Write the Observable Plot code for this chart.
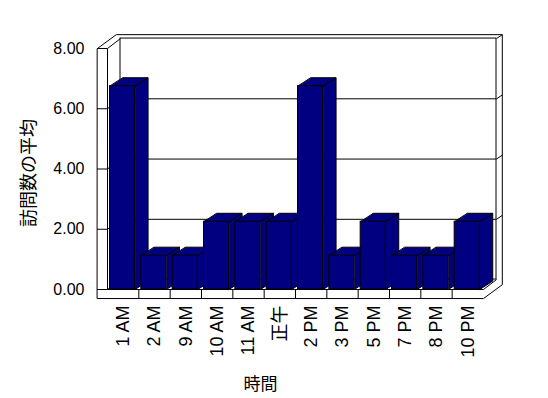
<!DOCTYPE html>
<html>
<head>
<meta charset="utf-8">
<script src="https://cdn.jsdelivr.net/npm/d3@7"></script>
<script src="https://cdn.jsdelivr.net/npm/@observablehq/plot@0.6"></script>
<style>
  html, body { margin: 0; padding: 0; background: #ffffff; }
</style>
</head>
<body>
<div id="chart"></div>
<script>
// ---- data ----
const categories = ["1 AM", "2 AM", "9 AM", "10 AM", "11 AM", "正午", "2 PM", "3 PM", "5 PM", "7 PM", "8 PM", "10 PM"];
const values = [6.75, 1.125, 1.125, 2.25, 2.25, 2.25, 6.75, 1.125, 2.25, 1.125, 1.125, 2.25];
const yTicks = [0, 2, 4, 6, 8];
const yTitle = "訪問数の平均";
const xTitle = "時間";

// ---- 3D projection (in data units) ----
const N = categories.length;
const YMAX = 8;
const IN = {x: 0.415, y: 0.33};    // back-wall inner plane offset
const OUT = {x: 0.6, y: 0.46};     // back-wall outer plane offset
const WALL = 0.32;                 // left wall thickness (x units)
const FLOOR = 0.3;                 // floor slab thickness (y units)
const BAR = {x0: 0.08, x1: 0.88, dx: 0.415, dy: 0.28};
const NAVY = "#000080";

const bars = categories.map((c, i) => ({i, c, v: values[i]}));

// outer silhouette of the walls/floor box
const silhouette = [
  [-WALL, YMAX], [-WALL + OUT.x, YMAX + OUT.y], [N + OUT.x, YMAX + OUT.y],
  [N + OUT.x, -FLOOR + OUT.y], [N, -FLOOR], [-WALL, -FLOOR]
].map(([x, y]) => ({x, y, id: "box"}));

// line segments of the frame
const segs = [];
const seg = (x1, y1, x2, y2) => segs.push({x1, y1, x2, y2});
seg(0, YMAX, 0, 0);
seg(-WALL, YMAX, 0, YMAX);
seg(0, YMAX, IN.x, YMAX + IN.y);
seg(0, 0, N, 0);
seg(N, 0, N + IN.x, IN.y);
seg(0, 0, IN.x, IN.y);
seg(N + IN.x, YMAX + IN.y, N + OUT.x, YMAX + OUT.y);
for (const t of yTicks) {
  if (t > 0 && t < YMAX) {
    seg(IN.x, t + IN.y, N + IN.x, t + IN.y);
    seg(0, t, IN.x, t + IN.y);
    seg(N + IN.x, t + IN.y, N + OUT.x, t + OUT.y);
  }
}
for (let i = 1; i < N; i++) seg(i, 0, i, -FLOOR);

// bar faces
const sides = [], tops = [];
for (const b of bars) {
  const a = b.i + BAR.x0, e = b.i + BAR.x1;
  [[e, 0], [e + BAR.dx, BAR.dy], [e + BAR.dx, b.v + BAR.dy], [e, b.v]]
    .forEach(([x, y]) => sides.push({x, y, id: b.i}));
  [[a, b.v], [e, b.v], [e + BAR.dx, b.v + BAR.dy], [a + BAR.dx, b.v + BAR.dy]]
    .forEach(([x, y]) => tops.push({x, y, id: b.i}));
}

const chart = Plot.plot({
  width: 548,
  height: 398,
  marginLeft: 107,
  marginRight: 65,
  marginTop: 48,
  marginBottom: 109,
  x: {domain: [0, N], axis: null},
  y: {domain: [0, YMAX], axis: null},
  style: {fontFamily: "'Liberation Sans', 'Noto Sans CJK JP', sans-serif", background: "#ffffff", color: "#000000"},
  marks: [
    Plot.line(silhouette, {x: "x", y: "y", z: "id", curve: "linear-closed", fill: "white", stroke: "black", strokeWidth: 1}),
    Plot.rect([0], {x1: IN.x, x2: N + IN.x, y1: IN.y, y2: YMAX + IN.y, fill: "white", stroke: "black", strokeWidth: 1}),
    Plot.link(segs, {x1: "x1", y1: "y1", x2: "x2", y2: "y2", stroke: "black", strokeWidth: 1}),
    Plot.axisY({ticks: yTicks, tickFormat: d => d.toFixed(2), tickSize: 10, tickPadding: 13, fontSize: 16, label: null}),
    Plot.line(sides, {x: "x", y: "y", z: "id", curve: "linear-closed", fill: NAVY, stroke: "black", strokeWidth: 1}),
    Plot.line(tops, {x: "x", y: "y", z: "id", curve: "linear-closed", fill: NAVY, stroke: "black", strokeWidth: 1}),
    Plot.rect(bars, {x1: d => d.i + BAR.x0, x2: d => d.i + BAR.x1, y1: 0, y2: "v", fill: NAVY, stroke: "black", strokeWidth: 1}),
    Plot.text(bars, {x: d => d.i + 0.5, y: 0, text: "c", dy: 16, rotate: -90, textAnchor: "end", lineAnchor: "middle", fontSize: 18}),
    Plot.text([xTitle], {frameAnchor: "bottom", text: d => d, dx: -35, dy: 95, textAnchor: "middle", lineAnchor: "middle", fontSize: 17}),
    Plot.text([yTitle], {frameAnchor: "left", text: d => d, dx: -78, dy: 4, rotate: -90, textAnchor: "middle", lineAnchor: "middle", fontSize: 18})
  ]
});
document.getElementById("chart").appendChild(chart);
</script>
</body>
</html>
